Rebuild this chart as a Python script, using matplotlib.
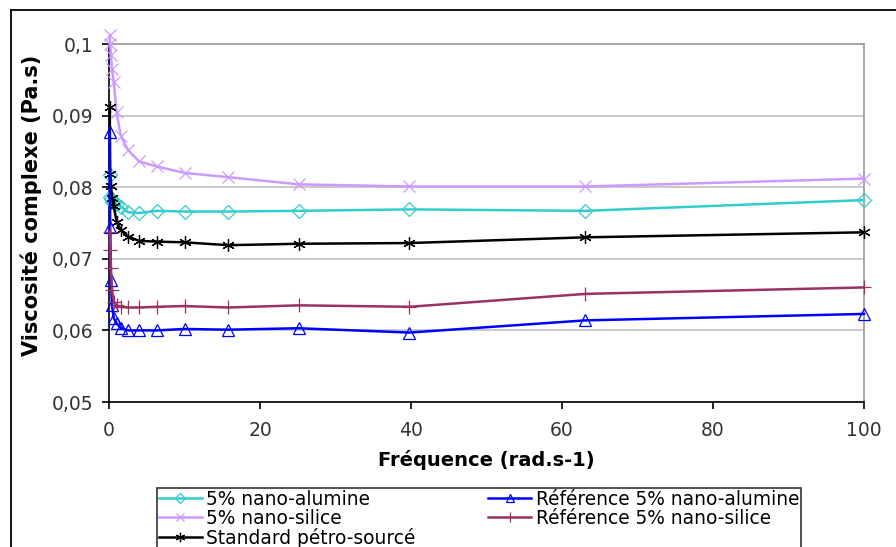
import matplotlib.pyplot as plt
from matplotlib.lines import Line2D

CYAN   = "#33CCCC"
LILAC  = "#CC99FF"
BLACK  = "#000000"
MAROON = "#993366"
BLUE   = "#0000FF"
GRID   = "#C0C0C0"
TXT    = "#333333"

freq = [0.1, 0.158, 0.251, 0.398, 0.631, 1.0, 1.58, 2.51, 3.98, 6.31,
        10.0, 15.8, 25.1, 39.8, 63.1, 100.0]

alumine     = [0.0817, 0.0787, 0.0783, 0.0780, 0.0778, 0.0776, 0.0773, 0.0765,
               0.0764, 0.0767, 0.0766, 0.0766, 0.0767, 0.0769, 0.0767, 0.0782]
silice      = [0.1012, 0.1000, 0.0985, 0.0965, 0.0947, 0.0905, 0.0871, 0.0852,
               0.0836, 0.0829, 0.0820, 0.0814, 0.0804, 0.0801, 0.0801, 0.0812]
standard    = [0.0912, 0.0818, 0.0802, 0.0785, 0.0774, 0.0752, 0.0740, 0.0731,
               0.0725, 0.0724, 0.0723, 0.0719, 0.0721, 0.0722, 0.0730, 0.0737]
ref_alumine = [0.0877, 0.0745, 0.0670, 0.0635, 0.0617, 0.0610, 0.0603, 0.0600,
               0.0600, 0.0600, 0.0602, 0.0601, 0.0603, 0.0597, 0.0614, 0.0623]
ref_silice  = [0.0737, 0.0712, 0.0687, 0.0656, 0.0640, 0.0635, 0.0633, 0.0632,
               0.0632, 0.0633, 0.0634, 0.0632, 0.0635, 0.0633, 0.0651, 0.0660]

y_ticks = [0.05, 0.06, 0.07, 0.08, 0.09, 0.1]
y_labels = ["0,05", "0,06", "0,07", "0,08", "0,09", "0,1"]
x_ticks = [0, 20, 40, 60, 80, 100]

W, H = 896, 547
fig = plt.figure(figsize=(W / 100, H / 100), dpi=100)
fig.patch.set_facecolor("white")
ax = fig.add_axes([109 / W, 1 - 402 / H, (864 - 109) / W, (402 - 44) / H])

# outer chart frame (left and top visible only)
fig.add_artist(Line2D([10.5 / W, 10.5 / W], [0, 1 - 10 / H], color=BLACK,
                      lw=1.3, transform=fig.transFigure))
fig.add_artist(Line2D([10.5 / W, 1], [1 - 10 / H, 1 - 10 / H], color=BLACK,
                      lw=1.3, transform=fig.transFigure))

series = [
    ("5% nano-alumine", alumine, CYAN, "D", 7, "none"),
    ("5% nano-silice", silice, LILAC, "x", 8, LILAC),
    ("Standard pétro-sourcé", standard, BLACK, (6, 2, 0), 9, BLACK),
    ("Référence 5% nano-alumine", ref_alumine, BLUE, "^", 8, "none"),
    ("Référence 5% nano-silice", ref_silice, MAROON, "+", 10, MAROON),
]
handles = []
for name, vals, c, m, ms, mfc in series:
    h, = ax.plot(freq, vals, color=c, lw=1.8, marker=m, markersize=ms,
                 markerfacecolor="none" if mfc == "none" else mfc,
                 markeredgecolor=c, markeredgewidth=0.9, label=name,
                 clip_on=False, zorder=3)
    handles.append(h)

ax.set_xlim(0, 100)
ax.set_ylim(0.05, 0.1)
ax.set_yticks(y_ticks)
ax.set_yticklabels(y_labels)
ax.set_xticks(x_ticks)
ax.grid(axis="y", color=GRID, lw=1.2)
ax.set_axisbelow(True)
for s in ["top", "right"]:
    ax.spines[s].set_color("#A0A0A0")
    ax.spines[s].set_linewidth(1.3)
for s in ["left", "bottom"]:
    ax.spines[s].set_color(BLACK)
    ax.spines[s].set_linewidth(1.2)
ax.tick_params(axis="both", direction="out", length=5, width=1.2,
               labelsize=13.5, labelcolor=TXT, color=BLACK)
ax.tick_params(axis="y", pad=6)
ax.tick_params(axis="x", pad=9)

ax.set_xlabel("Fréquence (rad.s-1)", fontsize=14, fontweight="bold",
              labelpad=7)
ax.set_ylabel("Viscosité complexe (Pa.s)", fontsize=15, fontweight="bold")
ax.yaxis.set_label_coords(-0.089, 0.55)

leg = fig.legend(handles=handles, ncol=2, loc="upper left",
                 bbox_to_anchor=(157 / W, 1 - 488 / H), fontsize=13.4,
                 frameon=True, fancybox=False, edgecolor=BLACK,
                 borderpad=0.1, labelspacing=0.0, handlelength=2.3,
                 handletextpad=0.25, columnspacing=3.9, borderaxespad=0,
                 markerscale=0.75)
leg.get_frame().set_linewidth(1.2)

fig.savefig("out.png", dpi=100, facecolor="white")
